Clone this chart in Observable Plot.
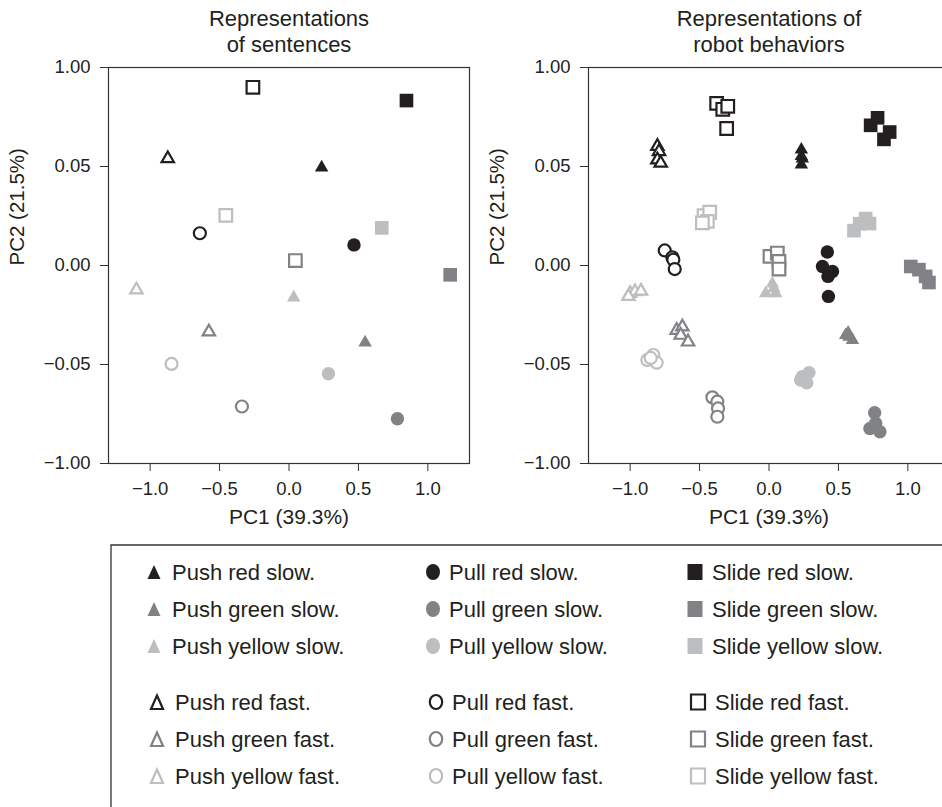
<!DOCTYPE html>
<html><head><meta charset="utf-8">
<script src="https://cdn.jsdelivr.net/npm/d3@7"></script>
<script src="https://cdn.jsdelivr.net/npm/@observablehq/plot@0.6"></script>
<style>
body{margin:0;background:#fff;overflow:hidden;}
#root{position:relative;width:942px;height:807px;overflow:hidden;font-family:'Liberation Sans',Arial,sans-serif;color:#231f20;background:#fff;}
.panel{position:absolute;top:0;}
#legend{position:absolute;left:0;top:540px;}
</style></head><body><div id="root"></div>
<script>
// ---------- data ----------
const verbs = ["Push", "Pull", "Slide"];
const colorNames = ["red", "green", "yellow"];
const speeds = ["slow", "fast"];
const shades = ["#231f20", "#808285", "#bcbec0"];
const symbolNames = ["triangle", "circle", "square"];

const panelTitles = ["Representations\nof sentences", "Representations of\nrobot behaviors"];
const xLabel = "PC1 (39.3%)";
const yLabel = "PC2 (21.5%)";
const xTicks = [-1, -0.5, 0, 0.5, 1];
const xTickLabels = ["\u22121.0", "\u22120.5", "0.0", "0.5", "1.0"];
const yTicks = [-0.1, -0.05, 0, 0.05, 0.1];
const yTickLabels = ["\u22121.00", "\u22120.05", "0.00", "0.05", "1.00"];

// sentences: one point per condition
const sentenceCond = [
  "Push red slow.", "Push green slow.", "Push yellow slow.",
  "Pull red slow.", "Pull green slow.", "Pull yellow slow.",
  "Slide red slow.", "Slide green slow.", "Slide yellow slow.",
  "Push red fast.", "Push green fast.", "Push yellow fast.",
  "Pull red fast.", "Pull green fast.", "Pull yellow fast.",
  "Slide red fast.", "Slide green fast.", "Slide yellow fast."
];
const sentencePC1 = [0.235, 0.548, 0.034, 0.468, 0.781, 0.284, 0.846, 1.161, 0.668,
  -0.873, -0.577, -1.099, -0.642, -0.339, -0.846, -0.26, 0.046, -0.455];
const sentencePC2 = [0.0495, -0.0389, -0.0162, 0.0104, -0.0774, -0.0547, 0.0833, -0.0047, 0.019,
  0.054, -0.0335, -0.0123, 0.0163, -0.0712, -0.0497, 0.090, 0.0025, 0.0253];

// robot behaviors: several trials per condition
const robotCond = [
  "Push red slow.", "Push red slow.", "Push red slow.", "Push red slow.",
  "Push green slow.", "Push green slow.", "Push green slow.", "Push green slow.",
  "Push yellow slow.", "Push yellow slow.", "Push yellow slow.", "Push yellow slow.",
  "Pull red slow.", "Pull red slow.", "Pull red slow.", "Pull red slow.", "Pull red slow.",
  "Pull green slow.", "Pull green slow.", "Pull green slow.", "Pull green slow.",
  "Pull yellow slow.", "Pull yellow slow.", "Pull yellow slow.", "Pull yellow slow.",
  "Slide red slow.", "Slide red slow.", "Slide red slow.", "Slide red slow.",
  "Slide green slow.", "Slide green slow.", "Slide green slow.", "Slide green slow.",
  "Slide yellow slow.", "Slide yellow slow.", "Slide yellow slow.", "Slide yellow slow.",
  "Push red fast.", "Push red fast.", "Push red fast.", "Push red fast.",
  "Push green fast.", "Push green fast.", "Push green fast.", "Push green fast.",
  "Push yellow fast.", "Push yellow fast.", "Push yellow fast.", "Push yellow fast.",
  "Pull red fast.", "Pull red fast.", "Pull red fast.", "Pull red fast.",
  "Pull green fast.", "Pull green fast.", "Pull green fast.", "Pull green fast.",
  "Pull yellow fast.", "Pull yellow fast.", "Pull yellow fast.", "Pull yellow fast.",
  "Slide red fast.", "Slide red fast.", "Slide red fast.", "Slide red fast.",
  "Slide green fast.", "Slide green fast.", "Slide green fast.", "Slide green fast.",
  "Slide yellow fast.", "Slide yellow fast.", "Slide yellow fast.", "Slide yellow fast."
];
const robotPC1 = [
  0.233, 0.233, 0.233, 0.240,
  0.552, 0.576, 0.601, 0.570,
  0.024, -0.024, 0.048, 0.035,
  0.420, 0.385, 0.457, 0.425, 0.428,
  0.761, 0.727, 0.799, 0.768,
  0.241, 0.288, 0.272, 0.228,
  0.732, 0.782, 0.869, 0.828,
  1.021, 1.080, 1.128, 1.152,
  0.612, 0.653, 0.696, 0.724,
  -0.804, -0.792, -0.804, -0.780,
  -0.665, -0.624, -0.636, -0.583,
  -1.000, -0.965, -0.922, -1.012,
  -0.751, -0.696, -0.689, -0.679,
  -0.408, -0.372, -0.367, -0.372,
  -0.876, -0.833, -0.809, -0.852,
  -0.377, -0.333, -0.297, -0.305,
  0.007, 0.060, 0.072, 0.072,
  -0.468, -0.427, -0.444, -0.480
];
const robotPC2 = [
  0.0585, 0.0552, 0.0509, 0.0540,
  -0.0352, -0.0360, -0.0377, -0.0340,
  -0.0092, -0.0141, -0.0141, -0.0115,
  0.0068, -0.0005, -0.0030, -0.0055, -0.0156,
  -0.0744, -0.0823, -0.0840, -0.0797,
  -0.0561, -0.0541, -0.0592, -0.0578,
  0.0708, 0.0746, 0.0674, 0.0637,
  -0.0005, -0.0021, -0.0055, -0.0086,
  0.0176, 0.0211, 0.0237, 0.0212,
  0.0602, 0.0576, 0.0534, 0.0517,
  -0.0327, -0.0310, -0.0352, -0.0386,
  -0.0141, -0.0132, -0.0129, -0.0156,
  0.0076, 0.0041, 0.0029, -0.0018,
  -0.0666, -0.0688, -0.0722, -0.0764,
  -0.0477, -0.0452, -0.0491, -0.0467,
  0.0819, 0.0789, 0.0804, 0.0692,
  0.0046, 0.0063, 0.0021, -0.0018,
  0.0252, 0.0269, 0.0223, 0.0215
];

// ---------- drawing ----------
const FONT = "'Liberation Sans', Arial, sans-serif";
const INK = "#231f20";
const symR = {Push: [5.0, 4.6], Pull: [6.7, 6.0], Slide: [7.7, 7.1]};
const shadeOf = c => shades[colorNames.indexOf(c)];

function parse(cond, pc1, pc2) {
  return cond.map((c, i) => {
    const [verb, col, speed] = c.replace(".", "").split(" ");
    return {verb, col, speed, x: pc1[i], y: pc2[i]};
  });
}

function panel(title, data, left) {
  const marks = [Plot.frame({stroke: "#333", strokeWidth: 1.2})];
  for (const sp of speeds) for (const v of verbs) {
    const sub = data.filter(d => d.verb === v && d.speed === sp);
    const filled = sp === "slow";
    marks.push(Plot.dot(sub, filled
      ? {x: "x", y: "y", symbol: "verb", fill: d => shadeOf(d.col), stroke: "none", r: symR[v][0]}
      : {x: "x", y: "y", symbol: "verb", stroke: d => shadeOf(d.col), fill: "white", strokeWidth: 2.2, r: symR[v][1]}));
  }
  const yMap = new Map(yTicks.map((v, i) => [v, yTickLabels[i]]));
  const xMap = new Map(xTicks.map((v, i) => [v, xTickLabels[i]]));
  marks.push(
    Plot.axisY({ticks: yTicks, tickFormat: d => yMap.get(d), tickSize: 8, tickPadding: 10, fontSize: 18.5, label: null, stroke: "#333", fill: INK}),
    Plot.axisX({ticks: xTicks, tickFormat: d => xMap.get(d), tickSize: 8, tickPadding: 10, fontSize: 18.5, label: null, stroke: "#333", fill: INK}),
    Plot.text([title], {text: d => d, frameAnchor: "top", lineAnchor: "middle", dy: -36.5, fontSize: 22, lineHeight: 1.16, fill: INK}),
    Plot.text([xLabel], {text: d => d, frameAnchor: "bottom", lineAnchor: "middle", dy: 54, fontSize: 21, fill: INK}),
    Plot.text([yLabel], {text: d => d, frameAnchor: "left", lineAnchor: "middle", rotate: -90, dx: -91, fontSize: 20.5, fill: INK})
  );
  const chart = Plot.plot({
    width: 480, height: 540,
    marginLeft: 108, marginRight: 11, marginTop: 67, marginBottom: 77,
    style: {fontFamily: FONT, background: "transparent", color: INK, overflow: "visible"},
    x: {domain: [-1.3, 1.3], axis: null},
    y: {domain: [-0.1, 0.1], axis: null},
    color: {type: "identity"},
    symbol: {domain: verbs, range: symbolNames},
    marks
  });
  chart.classList.add("panel");
  chart.style.left = left + "px";
  return chart;
}

const root = document.getElementById("root");
root.appendChild(panel(panelTitles[0], parse(sentenceCond, sentencePC1, sentencePC2), 0));
root.appendChild(panel(panelTitles[1], parse(robotCond, robotPC1, robotPC2), 480));

// ---------- legend ----------
const legendW = 942, legendH = 267;
const svg = d3.create("svg").attr("id", "legend").attr("width", legendW).attr("height", legendH)
  .style("font-family", FONT);
svg.append("path").attr("d", `M111,${legendH + 10}V5H${legendW + 10}`).attr("fill", "none").attr("stroke", "#333").attr("stroke-width", 1.3);
const colSym = [154, 433, 695], colText = [172, 449, 712];
const rowY = {slow: [32, 69, 106], fast: [162, 199, 236]};
function shapePath(verb, filled) {
  if (filled) {
    if (verb === "Push") return "M0,-7L6.5,7L-6.5,7Z";
    if (verb === "Pull") return "M0,-8A7,8 0 1,1 0,8A7,8 0 1,1 0,-8Z";
    return "M-7.5,-8H7.5V8H-7.5Z";
  }
  if (verb === "Push") return "M0,-6.5L6,7L-6,7Z";
  if (verb === "Pull") return "M0,-7A6.2,7 0 1,1 0,7A6.2,7 0 1,1 0,-7Z";
  return "M-7,-7.5H7V7.5H-7Z";
}
speeds.forEach(sp => {
  colorNames.forEach((c, ri) => {
    verbs.forEach((v, ci) => {
      const label = `${v} ${c} ${sp}.`;
      const y = rowY[sp][ri];
      const filled = sp === "slow";
      const shift = filled ? 0 : 3;
      const g = svg.append("g").attr("transform", `translate(${colSym[ci] + shift},${y})`);
      const p = g.append("path").attr("d", shapePath(v, filled));
      if (filled) p.attr("fill", shades[ri]);
      else p.attr("fill", "white").attr("stroke", shades[ri]).attr("stroke-width", 2.2);
      svg.append("text").attr("x", colText[ci] + shift).attr("y", y).attr("dy", "0.35em")
        .attr("font-size", 22).attr("fill", INK).text(label);
    });
  });
});
root.appendChild(svg.node());
</script>
</body></html>
